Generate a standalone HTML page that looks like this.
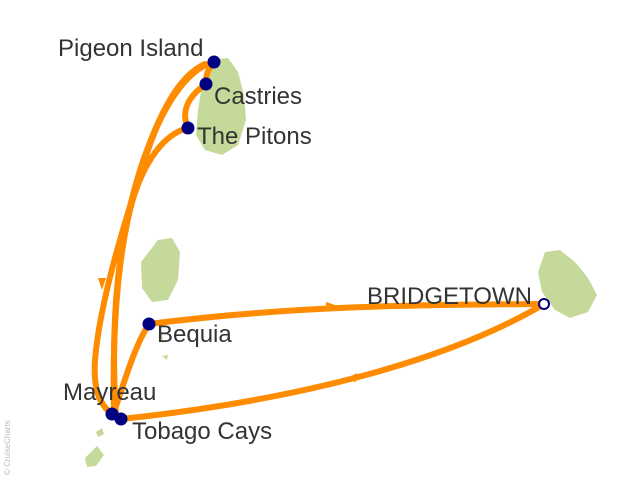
<!DOCTYPE html>
<html><head><style>body{margin:0;background:#fff}svg{display:block}</style></head><body>
<svg width="640" height="480" xmlns="http://www.w3.org/2000/svg">
<g fill="#c5d99a">
<path d="M210,60 L228,58 L238,72 L244,95 L246,120 L238,145 L222,155 L205,150 L196,135 L198,110 L202,85 Z"/>
<path d="M158,240 L172,238 L180,252 L178,280 L168,300 L152,302 L142,288 L141,262 Z"/>
<path d="M545,252 L560,250 L575,262 L588,278 L597,295 L588,312 L570,318 L555,310 L542,292 L538,272 Z"/>
<path d="M85,458 L97,446 L104,455 L96,466 L87,467 Z"/>
<path d="M96,432 L102,428 L104,434 L98,437 Z"/>
<path d="M158,336 L162,334 L163,340 Z"/>
<path d="M162,356 L168,355 L167,360 Z"/>
</g>
<g fill="none" stroke="#ff8c00" stroke-width="6" stroke-linecap="round">
<path d="M544,304 C450,360 300,400 121,419"/>
<path d="M116,416 C110,320 118,240 140,170 C160,110 180,75 205,64"/>
<path d="M214,62 C190,68 165,100 148,150 C125,220 100,300 95,360 C93,390 100,405 112,414"/>
<path d="M212,64 C205,75 206,80 206,84"/>
<path d="M206,84 C190,95 180,110 188,128"/>
<path d="M188,128 C160,135 140,170 130,210 C118,260 112,330 114,412"/>
<path d="M114,412 C125,380 135,345 149,324"/>
<path d="M149,324 C300,305 420,305 544,304"/>
</g>
<g fill="#ff8c00">
<path d="M326,302 L338,306 L326,311 Z"/>
<path d="M357,373 L346,379 L356,382 Z"/>
<path d="M142,162 L148,150 L150,163 Z"/>
<path d="M98,278 L102,290 L106,278 Z"/>
</g>
<g fill="#000080">
<circle cx="214" cy="62" r="6.5"/><circle cx="206" cy="84" r="6.5"/><circle cx="188" cy="128" r="6.5"/>
<circle cx="149" cy="324" r="6.5"/><circle cx="112" cy="414" r="6.5"/><circle cx="121" cy="419" r="6.5"/>
</g>
<circle cx="544" cy="304" r="5" fill="#fff" stroke="#000080" stroke-width="2"/>
<g font-family="Liberation Sans, sans-serif" font-size="24" fill="#333">
<text x="58" y="56">Pigeon Island</text>
<text x="214" y="104">Castries</text>
<text x="197" y="144">The Pitons</text>
<text x="157" y="342">Bequia</text>
<text x="63" y="400">Mayreau</text>
<text x="132" y="439">Tobago Cays</text>
<text x="367" y="304">BRIDGETOWN</text>
</g>
<text x="10" y="475" font-family="Liberation Sans, sans-serif" font-size="8" fill="#bbb" transform="rotate(-90 10 475)">© CruiseCharts</text>
</svg>
</body></html>
